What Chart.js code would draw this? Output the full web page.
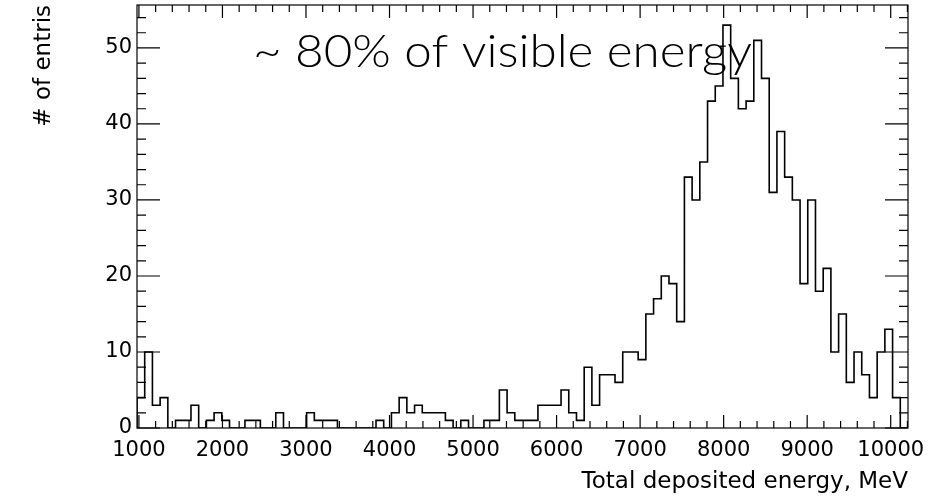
<!DOCTYPE html>
<html>
<head>
<meta charset="utf-8">
<script src="https://cdn.jsdelivr.net/npm/chart.js@4.4.0/dist/chart.umd.min.js"></script>
<style>
  html, body { margin: 0; padding: 0; background: #fff; }
</style>
</head>
<body>
<canvas id="hist" width="948" height="503"></canvas>
<script>
// histogram range, 100 equal bins
const xMin = 977;
const xMax = 10207;
const counts = [
  4, 10, 3, 4, 0, 1, 1, 3, 0, 1,
  2, 1, 0, 0, 1, 1, 0, 0, 2, 0,
  0, 0, 2, 1, 1, 1, 0, 0, 0, 0,
  0, 1, 0, 2, 4, 2, 3, 2, 2, 2,
  1, 0, 1, 0, 0, 1, 1, 5, 2, 1,
  1, 1, 3, 3, 3, 5, 2, 1, 8, 3,
  7, 7, 6, 10, 10, 9, 15, 17, 20, 19,
  14, 33, 30, 35, 43, 45, 53, 46, 42, 43,
  51, 46, 31, 39, 33, 30, 19, 30, 18, 21,
  10, 15, 6, 10, 7, 4, 10, 13, 4, 0
];
const yMax = 55.65;
const xTicks = [1000, 2000, 3000, 4000, 5000, 6000, 7000, 8000, 9000, 10000];
const yTicks = [0, 10, 20, 30, 40, 50];
const xTitle = 'Total deposited energy, MeV';
const yTitle = '# of entris';
const note = '~ 80% of visible energy';
// where the note sits, in data units: left edge, right edge, baseline
const noteFrom = 2365, noteTo = 8340, noteY = 47.5;

const rootFont = 'DejaVu Sans';

let binWidth = (xMax - xMin) / counts.length;
let points = [{x: xMin, y: 0}];
counts.forEach((c, i) => points.push({x: xMin + i * binWidth, y: c}));
points.push({x: xMax, y: counts[counts.length - 1]});
points.push({x: xMax, y: 0});

// ROOT style frame with ticks on all four sides, pointing in
const rootFrame = {
  id: 'rootFrame',
  afterDatasetsDraw(chart) {
    const {ctx, chartArea: a, scales: {x, y}} = chart;
    ctx.save();
    ctx.strokeStyle = '#000';
    ctx.lineWidth = 1.2;
    ctx.strokeRect(a.left, a.top, a.right - a.left, a.bottom - a.top);

    ctx.beginPath();
    for (let v = 1000; v < xMax; v += 200) {
      let px = x.getPixelForValue(v);
      let len = (v % 1000 === 0) ? 13 : 7;
      ctx.moveTo(px, a.bottom); ctx.lineTo(px, a.bottom - len);
      ctx.moveTo(px, a.top); ctx.lineTo(px, a.top + len);
    }
    for (let v = 0; v < yMax; v += 2) {
      let py = y.getPixelForValue(v);
      let len = (v % 10 === 0) ? 23 : 9;
      ctx.moveTo(a.left, py); ctx.lineTo(a.left + len, py);
      ctx.moveTo(a.right, py); ctx.lineTo(a.right - len, py);
    }
    ctx.stroke();

    // the slide note, fitted to the width it has in the picture
    let x0 = x.getPixelForValue(noteFrom);
    let x1 = x.getPixelForValue(noteTo);
    ctx.fillStyle = '#000';
    ctx.font = '300 46px Lato';
    ctx.textBaseline = 'alphabetic';
    let sx = (x1 - x0) / ctx.measureText(note).width;
    ctx.translate(x0, y.getPixelForValue(noteY));
    ctx.scale(sx, 1);
    ctx.fillText(note, 0, 0);
    ctx.restore();
  }
};

new Chart(document.getElementById('hist'), {
  type: 'line',
  data: {
    datasets: [{
      data: points,
      stepped: 'before',
      borderColor: '#000',
      borderWidth: 1.6,
      pointRadius: 0,
      fill: false
    }]
  },
  options: {
    responsive: false,
    animation: false,
    devicePixelRatio: 1,
    layout: {padding: {top: 5, right: 40, left: 0, bottom: 0}},
    plugins: {legend: {display: false}, tooltip: {enabled: false}},
    scales: {
      x: {
        type: 'linear',
        min: xMin,
        max: xMax,
        afterBuildTicks: s => { s.ticks = xTicks.map(v => ({value: v})); },
        afterFit: s => { s.height = 75; s.paddingLeft = 0; s.paddingRight = 0; },
        grid: {display: false, drawTicks: false},
        border: {display: false},
        ticks: {color: '#000', autoSkip: false, maxRotation: 0, padding: 10,
                font: {family: rootFont, size: 21}, callback: v => String(v)},
        title: {display: true, text: xTitle, align: 'end', color: '#000',
                font: {family: rootFont, size: 23}, padding: {top: 0, bottom: 7}}
      },
      y: {
        min: 0,
        max: yMax,
        afterBuildTicks: s => { s.ticks = yTicks.map(v => ({value: v})); },
        afterFit: s => { s.width = 137; s.paddingTop = 0; s.paddingBottom = 0; },
        grid: {display: false, drawTicks: false},
        border: {display: false},
        ticks: {color: '#000', padding: 5,
                font: {family: rootFont, size: 21}, callback: v => String(v)},
        title: {display: true, text: yTitle, align: 'end', color: '#000',
                font: {family: rootFont, size: 23}, padding: {top: 30, bottom: 0}}
      }
    }
  },
  plugins: [rootFrame]
});
</script>
</body>
</html>
